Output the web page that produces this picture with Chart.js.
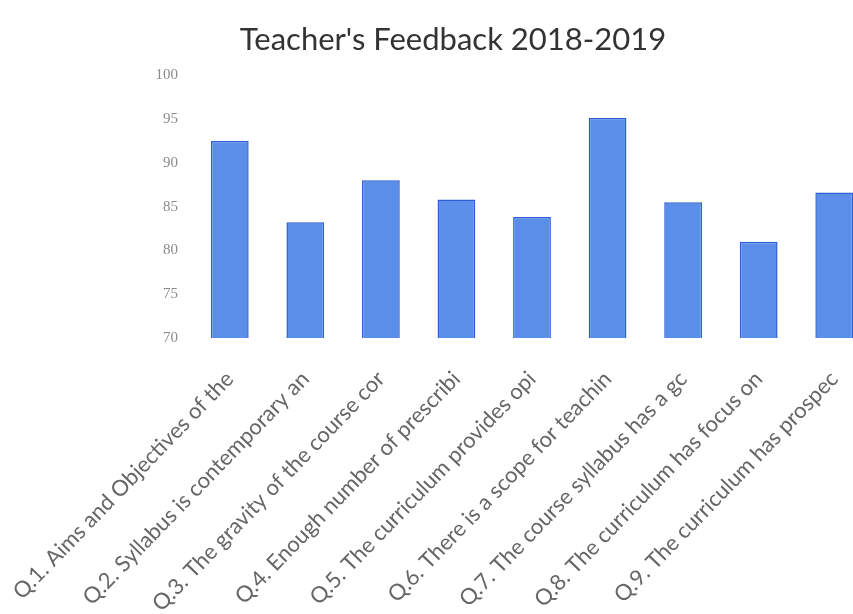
<!DOCTYPE html>
<html>
<head>
<meta charset="utf-8">
<script src="https://cdn.jsdelivr.net/npm/chart.js@4/dist/chart.umd.min.js"></script>
<style>
  html, body { margin: 0; padding: 0; background: #ffffff; overflow: hidden; }
  #wrap { width: 906px; height: 614px; position: relative; }
</style>
</head>
<body>
<div id="wrap"><canvas id="c"></canvas></div>
<script>
const titleText = "Teacher's Feedback 2018-2019";
const categories = [
  "Q.1. Aims and Objectives of the",
  "Q.2. Syllabus is contemporary an",
  "Q.3. The gravity of the course cor",
  "Q.4. Enough number of prescribi",
  "Q.5. The curriculum provides opi",
  "Q.6. There is a scope for teachin",
  "Q.7. The course syllabus has a gc",
  "Q.8. The curriculum has focus on",
  "Q.9. The curriculum has prospec"
];
const values = [92.5, 83.2, 88.0, 85.8, 83.8, 95.1, 85.5, 81.0, 86.6];
const yMin = 70;
const yMax = 100;
const yStep = 5;

new Chart(document.getElementById('c'), {
  type: 'bar',
  data: {
    labels: categories,
    datasets: [{
      data: values,
      backgroundColor: '#5b8ee8',
      borderColor: '#2c5fd4',
      borderWidth: 1.5,
      barPercentage: 0.5,
      categoryPercentage: 1.0
    }]
  },
  options: {
    responsive: true,
    maintainAspectRatio: false,
    animation: false,
    layout: { padding: { left: 34, right: 34, top: 0, bottom: 0 } },
    plugins: {
      legend: { display: false },
      tooltip: { enabled: false },
      title: {
        display: true,
        text: titleText,
        color: '#333333',
        font: { family: 'Lato', size: 31, weight: 'normal' },
        padding: { top: 21, bottom: 17 }
      }
    },
    scales: {
      x: {
        grid: { display: false, drawTicks: false },
        border: { display: false },
        ticks: {
          autoSkip: false,
          minRotation: 46,
          maxRotation: 46,
          color: '#666666',
          padding: 28,
          font: { family: 'Lato', size: 22 }
        },
        afterFit: function (scale) {
          scale.height = 276;
          scale.paddingLeft = 0;
          scale.paddingRight = 0;
        }
      },
      y: {
        min: yMin,
        max: yMax,
        grid: { display: false, drawTicks: false },
        border: { display: false },
        ticks: {
          stepSize: yStep,
          color: '#8a8a8a',
          padding: 14,
          font: { family: 'Liberation Serif', size: 15 }
        },
        afterFit: function (scale) { scale.width = 158; }
      }
    }
  }
});
</script>
</body>
</html>
